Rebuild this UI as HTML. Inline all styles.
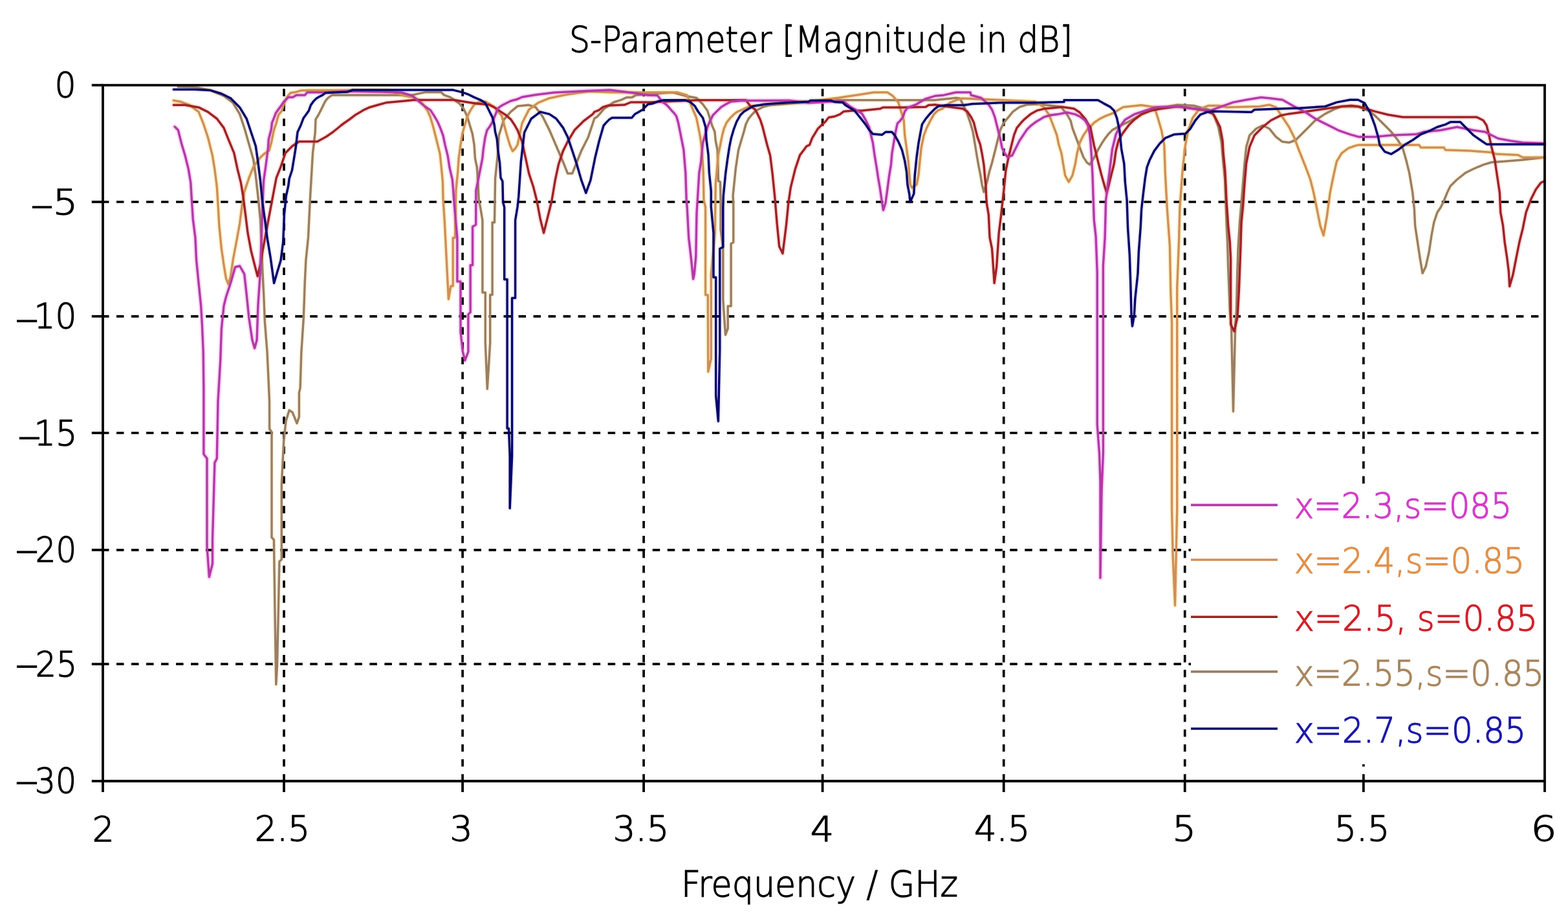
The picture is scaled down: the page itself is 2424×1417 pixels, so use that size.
<!DOCTYPE html><html><head><meta charset="utf-8"><title>S-Parameter [Magnitude in dB]</title><style>
html,body{margin:0;padding:0;background:#fff;overflow:hidden}
svg{display:block}
text{font-family:'DejaVu Sans','Liberation Sans',sans-serif;fill:#000}
</style></head><body>
<svg width="2424" height="1417" viewBox="0 0 2424 1417">
<rect x="0" y="0" width="2424" height="1417" fill="#fff"/>
<g stroke="#000" stroke-width="3.70" stroke-dasharray="11.5 11.52" fill="none"><line x1="157" y1="312.0" x2="2386" y2="312.0"/><line x1="157" y1="488.8" x2="2386" y2="488.8"/><line x1="157" y1="669.0" x2="2386" y2="669.0"/><line x1="157" y1="849.8" x2="2386" y2="849.8"/><line x1="157" y1="1026.2" x2="2386" y2="1026.2"/></g>
<g stroke="#000" stroke-width="3.70" stroke-dasharray="11.4 11.62" fill="none"><line x1="439.0" y1="137.3" x2="439.0" y2="1208"/><line x1="715.1" y1="137.3" x2="715.1" y2="1208"/><line x1="995.1" y1="137.3" x2="995.1" y2="1208"/><line x1="1271.6" y1="137.3" x2="1271.6" y2="1208"/><line x1="1551.7" y1="137.3" x2="1551.7" y2="1208"/><line x1="1831.7" y1="137.3" x2="1831.7" y2="1208"/><line x1="2107.9" y1="137.3" x2="2107.9" y2="1208"/></g>
<path d="M275.4 134.1 L301.9 134.8 L324.8 139.4 L346.0 148.2 L360.1 158.8 L370.6 176.4 L377.7 197.6 L384.8 222.3 L391.8 247.0 L395.3 271.7 L398.9 303.4 L402.4 338.7 L404.2 374.0 L405.9 419.8 L407.7 455.1 L409.4 497.4 L413.0 543.3 L414.7 578.6 L416.5 620.0 L416.6 662.7 L420.0 667.8 L420.0 830.5 L423.4 833.9 L425.1 952.5 L426.8 1057.6 L428.5 1027.0 L430.2 949.0 L431.9 867.8 L435.3 864.4 L435.3 749.0 L438.7 681.4 L442.0 650.8 L447.1 633.9 L452.2 637.3 L459.0 654.2 L462.4 644.0 L462.4 606.8 L464.1 599.7 L465.9 543.3 L469.4 490.4 L471.2 437.5 L472.9 402.2 L476.5 366.9 L478.2 331.6 L480.0 296.4 L481.7 268.1 L483.5 236.4 L487.2 205.0 L488.0 184.4 L492.2 177.8 L495.5 171.2 L498.8 164.6 L502.0 158.0 L504.6 153.9 L507.9 150.6 L513.6 146.9 L525.2 146.9 L637.0 146.9 L657.0 142.6 L682.0 142.6 L686.6 146.9 L696.4 150.4 L710.5 160.3 L716.2 167.3 L721.8 178.6 L726.1 192.7 L730.3 206.8 L733.1 223.8 L734.5 244.9 L737.4 259.0 L738.8 280.2 L740.2 308.4 L742.5 320.0 L745.9 340.3 L745.9 452.0 L750.3 452.0 L750.3 529.9 L753.3 601.0 L757.7 529.9 L757.7 455.4 L761.1 455.4 L761.1 343.7 L764.5 343.7 L765.6 276.0 L769.8 235.0 L771.2 209.7 L775.5 195.5 L778.9 185.0 L789.4 172.9 L800.0 164.1 L817.7 162.3 L828.2 165.9 L838.8 180.0 L849.4 201.1 L860.0 225.8 L870.6 250.5 L877.6 268.1 L884.7 268.1 L891.7 250.5 L898.8 232.9 L909.4 211.7 L919.0 182.8 L922.3 181.1 L926.4 177.0 L933.9 167.9 L940.5 163.8 L948.7 158.0 L960.3 154.3 L968.5 150.6 L976.8 150.6 L983.4 146.9 L1040.0 142.8 L1061.2 148.5 L1076.7 151.3 L1086.6 161.2 L1093.6 171.0 L1096.4 179.5 L1100.7 193.6 L1104.9 203.5 L1106.3 217.6 L1109.1 231.7 L1109.8 252.9 L1110.5 279.7 L1113.4 281.1 L1114.1 309.3 L1114.0 354.6 L1117.8 384.2 L1117.8 463.2 L1121.5 517.5 L1125.2 507.7 L1125.2 473.0 L1130.1 473.0 L1130.1 376.8 L1133.8 374.3 L1133.8 320.0 L1133.1 302.3 L1137.4 259.9 L1141.6 231.7 L1145.8 217.6 L1150.0 203.5 L1152.9 192.2 L1157.1 183.7 L1162.8 176.7 L1168.4 171.0 L1174.0 168.2 L1179.5 165.2 L1190.8 162.4 L1290.0 154.7 L1445.3 154.7 L1477.7 151.2 L1484.0 152.0 L1494.1 172.4 L1499.8 189.3 L1504.0 203.4 L1506.8 220.4 L1509.6 237.3 L1512.5 254.2 L1515.3 268.4 L1518.1 285.3 L1520.9 296.6 L1526.6 278.2 L1529.4 265.5 L1533.6 251.4 L1537.9 234.5 L1542.1 217.5 L1546.4 200.6 L1552.0 189.3 L1559.1 180.8 L1566.1 172.4 L1576.0 165.3 L1587.3 161.8 L1607.1 161.1 L1640.0 165.0 L1649.4 176.6 L1655.1 186.5 L1657.9 197.8 L1662.1 209.1 L1666.4 220.4 L1670.6 231.7 L1674.9 242.9 L1680.5 251.4 L1684.7 254.2 L1691.8 242.9 L1697.4 231.7 L1703.1 221.8 L1708.7 213.3 L1714.4 206.2 L1720.0 200.6 L1728.0 196.4 L1744.9 188.0 L1764.6 176.7 L1787.2 168.2 L1820.0 161.9 L1845.4 163.2 L1870.0 170.0 L1875.9 175.9 L1883.5 196.2 L1888.6 221.6 L1891.1 252.1 L1893.7 277.5 L1894.9 310.5 L1896.2 348.6 L1897.5 374.0 L1898.7 414.6 L1901.3 480.0 L1903.5 502.0 L1906.5 635.7 L1909.7 502.0 L1911.4 480.0 L1912.7 424.8 L1914.0 384.2 L1916.5 343.5 L1919.1 313.0 L1921.6 282.6 L1924.1 252.1 L1926.7 226.7 L1931.8 208.9 L1941.9 198.7 L1952.1 193.7 L1962.2 198.7 L1972.4 211.4 L1982.6 219.1 L1992.7 220.3 L2002.9 216.5 L2013.0 206.4 L2023.2 196.2 L2033.4 186.0 L2048.6 175.9 L2063.8 168.3 L2074.0 164.5 L2100.0 165.0 L2115.2 170.8 L2125.4 178.4 L2138.1 191.1 L2150.8 203.8 L2161.0 216.5 L2168.6 229.2 L2173.7 247.0 L2178.7 267.3 L2183.8 297.8 L2186.4 323.2 L2187.6 348.6 L2191.4 374.0 L2195.3 399.4 L2199.1 422.3 L2204.1 412.1 L2209.2 389.2 L2213.0 363.8 L2216.8 343.5 L2221.9 328.3 L2227.0 320.7 L2232.1 310.5 L2237.2 297.8 L2242.2 287.6 L2252.4 277.5 L2265.1 267.3 L2277.8 261.0 L2293.0 254.6 L2305.7 250.8 L2323.5 249.5 L2354.0 247.0 L2387.0 243.2" fill="none" stroke="#fff8e6" stroke-width="8.00" stroke-linejoin="round" stroke-linecap="round" style="mix-blend-mode:multiply"/>
<path d="M268.3 155.3 L278.9 157.0 L293.0 162.3 L307.1 172.9 L314.2 190.5 L321.3 211.7 L328.3 239.9 L331.8 261.1 L335.4 289.3 L337.1 317.5 L338.9 349.3 L342.4 384.6 L346.0 409.2 L349.5 430.4 L353.0 439.2 L356.5 426.9 L360.1 402.2 L365.4 374.0 L370.6 345.7 L374.2 317.5 L377.7 296.4 L384.8 275.2 L391.8 257.6 L402.4 243.5 L407.7 238.3 L416.2 232.4 L419.6 219.7 L423.0 202.7 L427.2 190.0 L430.6 177.3 L435.6 171.4 L438.2 162.9 L441.6 154.5 L444.1 149.4 L449.2 143.5 L456.0 142.6 L464.4 140.1 L476.5 139.4 L600.0 139.5 L625.0 148.0 L640.0 150.4 L648.5 156.0 L655.5 163.1 L661.2 171.6 L665.4 181.4 L669.6 195.5 L673.2 209.7 L676.7 223.8 L680.2 237.9 L682.3 259.0 L684.4 280.2 L685.1 308.4 L687.1 338.7 L690.7 409.2 L693.4 462.2 L697.0 441.9 L700.2 441.9 L700.2 367.4 L703.5 367.4 L704.9 294.3 L707.7 266.1 L709.1 244.9 L712.0 223.8 L714.8 206.8 L719.0 191.3 L723.2 178.6 L727.5 170.1 L733.1 161.7 L740.0 158.0 L750.6 157.0 L764.7 165.9 L775.5 178.6 L778.3 188.5 L781.1 199.8 L783.9 209.7 L788.1 223.8 L792.4 233.6 L796.6 229.4 L800.0 223.8 L807.1 190.5 L817.7 169.4 L831.8 158.8 L849.4 151.7 L874.1 146.5 L909.4 141.2 L943.8 142.7 L1046.9 142.7 L1061.7 146.9 L1072.5 172.5 L1076.7 182.3 L1079.5 196.4 L1082.3 210.5 L1085.2 231.7 L1087.3 267.0 L1088.0 309.3 L1090.6 320.0 L1090.6 455.8 L1094.3 455.8 L1094.8 574.3 L1099.3 554.6 L1099.3 423.7 L1105.4 359.5 L1106.3 283.9 L1110.5 238.8 L1113.4 224.7 L1116.2 210.5 L1119.0 199.3 L1123.2 189.4 L1128.9 182.3 L1134.5 176.7 L1140.2 172.5 L1147.2 169.6 L1152.9 166.8 L1160.0 164.0 L1200.0 160.0 L1250.0 157.0 L1296.7 151.1 L1323.9 146.9 L1350.7 142.7 L1371.9 142.7 L1380.3 148.3 L1388.8 158.2 L1397.3 186.5 L1398.7 209.0 L1401.5 228.8 L1404.3 250.0 L1405.7 268.3 L1407.1 285.3 L1410.0 290.0 L1417.0 285.3 L1419.9 271.1 L1424.1 228.8 L1428.3 209.0 L1432.6 197.7 L1438.2 186.5 L1443.8 176.6 L1449.5 170.9 L1456.6 168.1 L1468.3 158.8 L1480.0 154.0 L1488.0 152.0 L1600.0 157.0 L1613.0 165.0 L1621.2 176.6 L1625.4 186.5 L1629.7 197.8 L1633.9 209.1 L1636.7 223.2 L1641.0 237.3 L1643.8 254.2 L1646.6 271.2 L1652.2 281.1 L1657.9 271.2 L1662.1 254.2 L1665.0 237.3 L1669.2 220.4 L1674.9 209.1 L1680.5 200.6 L1686.1 194.9 L1691.8 189.3 L1700.2 183.6 L1708.7 179.4 L1720.0 175.2 L1736.4 165.4 L1764.6 162.6 L1784.4 165.4 L1790.0 182.3 L1795.7 202.1 L1799.9 224.6 L1801.3 267.0 L1804.2 320.6 L1808.4 379.8 L1809.8 450.4 L1811.6 500.0 L1811.6 786.0 L1813.2 860.6 L1816.5 935.4 L1819.7 786.0 L1819.7 444.7 L1822.5 374.0 L1823.9 320.6 L1828.1 264.2 L1832.4 224.6 L1836.6 202.1 L1843.7 182.3 L1852.1 171.0 L1860.0 166.4 L1868.3 163.2 L1883.5 163.2 L1896.2 165.7 L1947.0 164.5 L1962.2 161.9 L1972.4 165.7 L1982.6 181.0 L1992.7 196.2 L2000.3 211.4 L2008.0 231.8 L2018.1 257.2 L2025.7 277.5 L2030.8 297.8 L2035.9 323.2 L2041.0 348.6 L2046.1 363.8 L2051.1 335.9 L2056.2 297.8 L2061.3 272.4 L2066.4 249.5 L2074.0 236.8 L2084.2 229.2 L2094.4 225.4 L2100.0 224.1 L2194.0 224.1 L2196.5 228.0 L2232.1 228.0 L2234.6 231.8 L2272.7 233.0 L2305.7 235.6 L2313.4 238.1 L2346.4 239.4 L2354.0 243.2 L2387.0 243.2" fill="none" stroke="#fff5d2" stroke-width="8.00" stroke-linejoin="round" stroke-linecap="round" style="mix-blend-mode:multiply"/>
<path d="M268.3 162.3 L286.0 162.3 L307.1 165.9 L321.3 172.9 L335.4 183.5 L346.0 197.6 L353.0 215.2 L361.8 236.4 L367.1 261.1 L372.4 282.3 L375.9 303.4 L379.5 331.6 L383.0 359.9 L388.3 388.1 L393.6 409.2 L398.2 426.9 L402.4 409.2 L405.9 388.1 L411.2 359.9 L416.5 331.6 L421.8 303.4 L427.1 275.2 L434.1 257.6 L441.2 236.4 L451.8 225.8 L462.4 218.8 L476.5 218.8 L490.6 218.8 L504.7 211.0 L514.5 204.2 L521.0 199.0 L527.0 194.0 L533.0 189.5 L541.0 184.0 L549.0 177.8 L556.0 173.7 L563.0 169.6 L570.0 166.3 L583.0 162.5 L598.0 158.4 L625.0 156.0 L640.0 154.6 L702.0 154.6 L724.7 158.2 L738.8 160.3 L755.7 161.7 L764.2 165.9 L772.6 171.6 L781.1 177.2 L789.6 184.3 L795.2 192.7 L800.0 201.2 L807.1 218.8 L812.4 243.5 L817.7 268.1 L824.7 289.3 L830.0 310.5 L835.3 338.7 L840.6 359.9 L845.9 338.7 L852.9 310.5 L858.2 278.7 L863.5 254.0 L870.6 232.9 L877.6 218.8 L888.2 201.1 L902.3 187.0 L916.4 176.4 L919.0 172.9 L925.6 170.4 L932.2 165.4 L940.5 163.0 L965.2 162.1 L975.1 158.0 L1005.6 158.0 L1079.0 154.7 L1153.0 154.7 L1160.0 164.0 L1166.8 168.8 L1170.3 174.4 L1175.3 185.0 L1178.8 195.6 L1182.3 209.7 L1185.9 223.8 L1190.6 239.9 L1194.1 268.1 L1197.7 303.4 L1201.2 345.7 L1204.7 381.0 L1210.0 391.6 L1215.3 349.3 L1218.8 314.0 L1222.4 289.3 L1229.4 261.1 L1236.5 239.9 L1247.1 225.8 L1251.5 223.8 L1255.7 213.2 L1260.0 206.2 L1264.2 199.1 L1270.6 192.7 L1275.5 188.5 L1281.1 181.5 L1290.0 180.0 L1298.5 176.6 L1304.1 172.3 L1318.2 170.9 L1332.3 170.9 L1360.6 168.1 L1364.8 166.0 L1395.9 166.0 L1431.1 165.3 L1435.4 162.5 L1445.3 161.8 L1459.4 163.9 L1488.5 168.1 L1495.5 172.4 L1501.2 180.8 L1505.4 189.3 L1508.2 200.6 L1511.1 211.9 L1515.3 223.2 L1518.1 237.3 L1520.9 254.2 L1522.4 271.2 L1523.8 285.3 L1525.2 313.5 L1528.3 331.6 L1530.0 366.9 L1533.6 384.6 L1535.3 409.2 L1537.1 437.5 L1540.6 412.8 L1544.2 359.9 L1547.7 331.6 L1552.0 292.4 L1554.8 264.1 L1559.1 243.0 L1563.3 226.0 L1567.5 209.1 L1571.8 197.8 L1578.8 189.3 L1584.5 183.6 L1592.9 176.6 L1602.8 170.9 L1614.1 168.1 L1628.2 166.7 L1642.4 165.3 L1660.7 168.1 L1669.2 173.8 L1677.7 183.6 L1683.3 193.5 L1685.6 196.4 L1691.3 224.6 L1696.9 247.2 L1702.6 269.8 L1708.2 289.5 L1711.0 298.0 L1716.7 275.4 L1722.3 252.9 L1725.1 233.1 L1729.4 216.2 L1736.4 204.9 L1744.9 193.6 L1753.4 185.1 L1764.6 176.7 L1778.8 171.0 L1792.9 168.2 L1820.0 164.5 L1860.0 170.0 L1875.0 176.0 L1878.4 181.0 L1886.0 196.2 L1889.9 216.5 L1891.1 236.8 L1893.7 262.2 L1894.9 285.1 L1896.2 313.0 L1898.7 348.6 L1901.3 374.0 L1902.6 399.4 L1902.6 501.3 L1908.0 512.0 L1913.0 490.0 L1915.3 450.0 L1916.5 419.7 L1917.8 384.2 L1919.1 343.5 L1921.6 318.1 L1924.1 282.6 L1926.7 252.1 L1931.8 226.7 L1939.4 208.9 L1952.1 196.2 L1964.8 186.0 L1980.0 178.4 L1992.7 175.9 L2013.0 173.3 L2074.0 164.5 L2089.2 163.2 L2100.0 164.5 L2125.4 172.1 L2145.7 177.2 L2168.6 181.0 L2282.9 181.0 L2293.0 186.0 L2298.1 193.7 L2301.9 208.9 L2305.7 226.7 L2310.8 247.0 L2314.6 272.4 L2318.4 297.8 L2319.7 328.3 L2323.5 348.6 L2326.1 374.0 L2329.9 399.4 L2332.4 419.7 L2333.7 442.6 L2338.8 424.8 L2343.8 399.4 L2348.9 374.0 L2354.0 353.7 L2359.1 328.3 L2366.7 308.0 L2374.3 292.7 L2381.9 282.6 L2387.0 280.0" fill="none" stroke="#ffe6e6" stroke-width="8.00" stroke-linejoin="round" stroke-linecap="round" style="mix-blend-mode:multiply"/>
<path d="M270.1 195.8 L275.4 201.1 L280.7 222.3 L286.0 239.9 L291.3 261.1 L294.8 282.3 L296.6 312.2 L298.3 338.7 L301.9 366.9 L303.6 402.2 L307.1 437.5 L310.7 472.7 L312.4 501.0 L314.2 543.3 L314.9 600.0 L314.9 701.7 L320.0 708.5 L320.0 844.0 L323.4 891.5 L328.5 871.0 L328.5 834.0 L331.9 715.0 L335.3 708.5 L337.0 620.0 L340.7 557.4 L342.4 508.0 L346.0 472.7 L349.5 458.6 L356.5 437.5 L363.6 412.8 L370.6 411.0 L377.7 423.4 L381.2 455.0 L384.8 490.4 L390.0 525.6 L393.6 538.0 L397.1 525.6 L398.9 472.7 L402.4 419.8 L404.2 366.9 L405.9 314.0 L407.7 278.7 L411.2 254.0 L414.5 228.1 L415.3 215.4 L419.6 198.5 L420.4 190.0 L423.8 181.6 L426.3 174.8 L430.6 168.9 L434.8 163.0 L439.0 157.0 L445.8 150.2 L452.6 150.2 L458.5 146.9 L471.5 146.9 L475.0 142.7 L502.0 142.7 L537.0 141.0 L588.0 142.0 L621.0 143.0 L637.8 148.2 L648.5 157.5 L656.9 164.5 L665.4 170.1 L671.0 178.6 L676.7 188.5 L680.9 198.4 L685.1 209.7 L688.0 223.8 L692.2 240.7 L695.0 259.0 L699.3 277.4 L700.7 294.3 L702.1 314.0 L706.9 367.4 L706.9 435.1 L712.0 435.1 L712.0 513.0 L715.4 543.4 L718.8 557.0 L723.9 543.4 L723.9 485.9 L727.2 482.5 L727.2 409.7 L730.6 409.7 L730.6 350.5 L735.7 347.0 L735.9 294.3 L741.6 266.1 L745.8 244.9 L747.2 230.8 L750.0 212.5 L752.9 201.2 L757.1 195.5 L761.3 188.5 L769.8 167.3 L775.5 163.1 L781.1 160.3 L789.6 156.0 L800.0 153.2 L807.1 150.0 L828.2 146.5 L856.5 142.9 L891.7 141.2 L943.0 139.0 L982.0 144.0 L1001.5 146.9 L1016.4 147.5 L1024.6 158.0 L1029.6 161.3 L1034.5 166.3 L1038.6 171.2 L1041.9 174.5 L1045.6 179.5 L1048.5 189.4 L1051.3 203.5 L1054.1 217.6 L1056.9 231.7 L1059.8 267.0 L1061.2 309.3 L1062.2 320.0 L1064.7 367.0 L1068.4 399.0 L1071.6 431.1 L1073.3 423.7 L1075.8 396.5 L1077.0 330.0 L1080.9 267.0 L1083.7 250.0 L1086.6 220.4 L1093.6 196.4 L1097.8 186.6 L1102.1 178.1 L1107.7 172.5 L1114.8 165.4 L1121.8 161.2 L1130.3 156.9 L1145.8 155.5 L1220.0 155.3 L1250.0 158.9 L1284.0 157.0 L1304.1 156.8 L1315.4 165.3 L1322.5 169.5 L1332.3 175.2 L1338.0 185.0 L1343.6 196.3 L1346.5 209.0 L1349.3 220.3 L1352.1 240.1 L1354.9 257.0 L1357.7 275.4 L1360.6 292.3 L1363.4 312.1 L1365.5 324.8 L1369.0 313.5 L1371.9 292.3 L1374.7 271.1 L1377.5 254.2 L1378.9 237.3 L1381.7 220.3 L1384.6 203.4 L1387.4 190.7 L1391.6 186.5 L1395.9 180.8 L1398.7 172.3 L1402.9 166.7 L1410.0 163.9 L1417.0 161.1 L1431.1 152.6 L1445.3 148.3 L1459.4 146.9 L1477.7 142.7 L1500.0 142.7 L1501.2 147.0 L1516.7 151.2 L1528.0 161.1 L1533.6 169.5 L1537.9 180.8 L1540.7 192.1 L1543.5 203.4 L1546.4 214.7 L1549.2 228.8 L1553.4 237.3 L1557.7 242.9 L1564.7 240.1 L1570.4 228.8 L1576.0 217.5 L1581.7 209.1 L1587.3 200.6 L1592.9 194.9 L1600.0 189.3 L1607.1 185.1 L1614.1 180.8 L1624.0 178.0 L1635.3 176.6 L1649.4 173.8 L1662.1 176.6 L1670.6 180.8 L1677.7 186.5 L1681.9 193.5 L1684.7 207.7 L1686.1 221.8 L1687.5 242.9 L1689.0 271.2 L1690.4 313.5 L1691.3 340.0 L1694.1 365.7 L1696.2 420.0 L1696.2 656.0 L1699.5 700.0 L1701.0 743.7 L1701.0 893.0 L1703.0 760.0 L1705.4 700.0 L1705.4 410.9 L1708.2 365.7 L1709.6 309.3 L1711.0 298.0 L1716.7 252.9 L1719.5 230.3 L1725.1 207.7 L1730.8 196.4 L1739.3 185.1 L1753.4 176.7 L1770.3 171.0 L1787.2 165.4 L1820.0 164.5 L1840.3 167.0 L1870.8 170.8 L1906.4 158.1 L1926.7 154.3 L1949.5 150.5 L1962.2 151.8 L1982.6 154.3 L2002.9 165.7 L2018.1 173.3 L2033.4 183.5 L2048.6 191.1 L2068.9 201.3 L2086.7 207.6 L2100.0 211.4 L2125.4 211.4 L2150.8 208.9 L2188.9 207.6 L2201.6 203.8 L2227.0 201.3 L2252.4 196.2 L2265.1 198.7 L2277.8 201.3 L2295.6 203.8 L2315.9 214.0 L2336.2 217.8 L2354.0 220.3 L2387.0 221.6" fill="none" stroke="#fcdcfa" stroke-width="8.00" stroke-linejoin="round" stroke-linecap="round" style="mix-blend-mode:multiply"/>
<path d="M268.3 138.3 L300.1 138.3 L324.8 139.4 L342.4 144.7 L356.5 151.7 L370.6 165.9 L381.2 183.5 L388.3 204.7 L395.3 225.8 L398.9 250.5 L402.4 278.7 L405.9 314.0 L409.4 338.7 L413.0 366.9 L418.3 398.7 L423.6 437.5 L428.8 419.8 L434.1 402.2 L437.7 374.0 L439.4 331.6 L442.3 302.8 L445.8 287.0 L447.2 276.0 L451.5 263.0 L454.3 246.0 L457.0 229.4 L460.0 204.2 L465.0 193.5 L469.0 182.8 L473.2 177.0 L477.3 171.2 L480.6 162.1 L484.8 156.4 L488.9 152.2 L493.0 149.8 L498.8 146.9 L503.0 143.5 L537.0 142.0 L545.0 139.0 L700.7 139.1 L714.8 142.6 L724.7 146.2 L733.1 150.4 L743.0 154.6 L750.0 158.9 L752.9 164.5 L757.1 173.0 L761.3 181.4 L764.2 192.7 L765.6 204.0 L768.4 215.3 L769.8 232.2 L772.6 252.0 L774.0 274.6 L776.9 280.2 L777.6 312.7 L779.7 320.0 L779.7 431.7 L784.1 431.7 L784.1 661.9 L786.5 661.9 L788.2 704.2 L788.2 785.5 L791.6 704.2 L791.6 460.5 L796.6 460.5 L796.6 340.3 L800.0 320.0 L801.8 303.4 L805.3 250.5 L810.6 204.7 L821.2 183.5 L835.3 172.9 L849.4 176.4 L860.0 183.5 L870.6 197.6 L877.6 211.7 L884.7 232.9 L891.7 254.0 L898.8 278.7 L905.8 298.1 L912.9 278.7 L920.0 243.5 L926.0 218.8 L933.1 194.0 L937.2 189.4 L942.1 184.4 L946.2 181.9 L976.8 181.9 L981.7 176.2 L987.5 172.9 L993.3 169.6 L998.2 164.6 L1001.5 161.3 L1009.8 159.7 L1018.0 156.4 L1026.3 154.7 L1059.3 154.7 L1067.5 158.0 L1074.1 163.8 L1079.0 172.0 L1083.2 177.8 L1086.6 182.3 L1090.8 196.4 L1092.2 217.6 L1095.0 238.8 L1096.4 267.0 L1099.3 295.2 L1099.3 320.0 L1103.0 359.5 L1103.0 428.6 L1106.7 428.6 L1106.7 611.4 L1110.4 650.9 L1112.8 539.8 L1112.8 384.2 L1117.8 381.7 L1117.8 320.0 L1118.3 302.3 L1121.8 267.0 L1124.7 245.8 L1127.5 227.5 L1130.3 213.4 L1134.5 199.3 L1138.8 188.0 L1144.4 178.1 L1150.0 172.5 L1157.1 168.2 L1164.2 164.0 L1174.0 162.6 L1181.1 161.2 L1200.0 159.8 L1220.0 158.5 L1250.0 157.0 L1253.0 155.3 L1284.7 155.3 L1290.0 157.5 L1302.7 158.2 L1306.9 162.5 L1314.0 166.7 L1321.0 170.9 L1326.7 178.0 L1332.3 185.0 L1338.0 192.1 L1343.6 200.6 L1349.3 206.9 L1363.4 208.3 L1369.0 204.1 L1378.9 204.1 L1383.2 209.0 L1388.8 218.9 L1394.4 231.6 L1398.7 248.6 L1401.5 265.5 L1402.9 285.3 L1405.7 299.4 L1407.1 312.1 L1412.8 299.4 L1414.2 271.1 L1417.0 242.9 L1419.9 221.7 L1422.7 206.2 L1425.5 192.1 L1431.1 183.6 L1438.2 175.2 L1445.3 168.1 L1450.9 163.9 L1463.6 162.5 L1490.0 162.5 L1503.6 160.6 L1545.9 158.8 L1595.3 158.8 L1645.0 157.5 L1645.0 154.7 L1697.4 154.7 L1705.9 159.6 L1716.7 165.4 L1722.3 171.0 L1726.6 182.3 L1730.8 202.1 L1733.6 230.3 L1737.8 252.9 L1739.3 281.1 L1742.1 309.3 L1743.5 351.6 L1746.3 394.0 L1747.7 436.3 L1749.1 487.1 L1750.5 504.0 L1753.4 487.1 L1754.8 461.7 L1759.0 422.2 L1760.4 388.3 L1763.2 351.6 L1764.6 323.4 L1767.5 298.0 L1770.3 275.4 L1773.1 258.5 L1777.3 247.2 L1784.4 233.1 L1792.9 221.8 L1801.3 213.4 L1815.4 207.7 L1832.7 206.4 L1840.3 198.7 L1848.0 186.0 L1855.6 177.2 L1865.7 173.3 L1875.9 172.1 L1934.3 173.3 L1939.4 169.5 L1972.4 168.3 L2010.5 167.0 L2048.6 164.5 L2066.4 158.1 L2086.7 154.3 L2099.4 154.3 L2109.6 159.4 L2117.8 173.3 L2125.4 193.7 L2130.5 211.4 L2133.0 224.1 L2140.6 234.3 L2150.8 238.1 L2161.0 231.8 L2171.1 224.1 L2183.8 216.5 L2196.5 207.6 L2211.8 201.3 L2221.9 196.2 L2234.6 192.4 L2242.2 188.6 L2257.5 188.6 L2265.1 196.2 L2277.8 208.9 L2290.5 217.8 L2298.1 222.9 L2387.0 222.9" fill="none" stroke="#efefff" stroke-width="8.00" stroke-linejoin="round" stroke-linecap="round" style="mix-blend-mode:multiply"/>
<path d="M275.4 134.1 L301.9 134.8 L324.8 139.4 L346.0 148.2 L360.1 158.8 L370.6 176.4 L377.7 197.6 L384.8 222.3 L391.8 247.0 L395.3 271.7 L398.9 303.4 L402.4 338.7 L404.2 374.0 L405.9 419.8 L407.7 455.1 L409.4 497.4 L413.0 543.3 L414.7 578.6 L416.5 620.0 L416.6 662.7 L420.0 667.8 L420.0 830.5 L423.4 833.9 L425.1 952.5 L426.8 1057.6 L428.5 1027.0 L430.2 949.0 L431.9 867.8 L435.3 864.4 L435.3 749.0 L438.7 681.4 L442.0 650.8 L447.1 633.9 L452.2 637.3 L459.0 654.2 L462.4 644.0 L462.4 606.8 L464.1 599.7 L465.9 543.3 L469.4 490.4 L471.2 437.5 L472.9 402.2 L476.5 366.9 L478.2 331.6 L480.0 296.4 L481.7 268.1 L483.5 236.4 L487.2 205.0 L488.0 184.4 L492.2 177.8 L495.5 171.2 L498.8 164.6 L502.0 158.0 L504.6 153.9 L507.9 150.6 L513.6 146.9 L525.2 146.9 L637.0 146.9 L657.0 142.6 L682.0 142.6 L686.6 146.9 L696.4 150.4 L710.5 160.3 L716.2 167.3 L721.8 178.6 L726.1 192.7 L730.3 206.8 L733.1 223.8 L734.5 244.9 L737.4 259.0 L738.8 280.2 L740.2 308.4 L742.5 320.0 L745.9 340.3 L745.9 452.0 L750.3 452.0 L750.3 529.9 L753.3 601.0 L757.7 529.9 L757.7 455.4 L761.1 455.4 L761.1 343.7 L764.5 343.7 L765.6 276.0 L769.8 235.0 L771.2 209.7 L775.5 195.5 L778.9 185.0 L789.4 172.9 L800.0 164.1 L817.7 162.3 L828.2 165.9 L838.8 180.0 L849.4 201.1 L860.0 225.8 L870.6 250.5 L877.6 268.1 L884.7 268.1 L891.7 250.5 L898.8 232.9 L909.4 211.7 L919.0 182.8 L922.3 181.1 L926.4 177.0 L933.9 167.9 L940.5 163.8 L948.7 158.0 L960.3 154.3 L968.5 150.6 L976.8 150.6 L983.4 146.9 L1040.0 142.8 L1061.2 148.5 L1076.7 151.3 L1086.6 161.2 L1093.6 171.0 L1096.4 179.5 L1100.7 193.6 L1104.9 203.5 L1106.3 217.6 L1109.1 231.7 L1109.8 252.9 L1110.5 279.7 L1113.4 281.1 L1114.1 309.3 L1114.0 354.6 L1117.8 384.2 L1117.8 463.2 L1121.5 517.5 L1125.2 507.7 L1125.2 473.0 L1130.1 473.0 L1130.1 376.8 L1133.8 374.3 L1133.8 320.0 L1133.1 302.3 L1137.4 259.9 L1141.6 231.7 L1145.8 217.6 L1150.0 203.5 L1152.9 192.2 L1157.1 183.7 L1162.8 176.7 L1168.4 171.0 L1174.0 168.2 L1179.5 165.2 L1190.8 162.4 L1290.0 154.7 L1445.3 154.7 L1477.7 151.2 L1484.0 152.0 L1494.1 172.4 L1499.8 189.3 L1504.0 203.4 L1506.8 220.4 L1509.6 237.3 L1512.5 254.2 L1515.3 268.4 L1518.1 285.3 L1520.9 296.6 L1526.6 278.2 L1529.4 265.5 L1533.6 251.4 L1537.9 234.5 L1542.1 217.5 L1546.4 200.6 L1552.0 189.3 L1559.1 180.8 L1566.1 172.4 L1576.0 165.3 L1587.3 161.8 L1607.1 161.1 L1640.0 165.0 L1649.4 176.6 L1655.1 186.5 L1657.9 197.8 L1662.1 209.1 L1666.4 220.4 L1670.6 231.7 L1674.9 242.9 L1680.5 251.4 L1684.7 254.2 L1691.8 242.9 L1697.4 231.7 L1703.1 221.8 L1708.7 213.3 L1714.4 206.2 L1720.0 200.6 L1728.0 196.4 L1744.9 188.0 L1764.6 176.7 L1787.2 168.2 L1820.0 161.9 L1845.4 163.2 L1870.0 170.0 L1875.9 175.9 L1883.5 196.2 L1888.6 221.6 L1891.1 252.1 L1893.7 277.5 L1894.9 310.5 L1896.2 348.6 L1897.5 374.0 L1898.7 414.6 L1901.3 480.0 L1903.5 502.0 L1906.5 635.7 L1909.7 502.0 L1911.4 480.0 L1912.7 424.8 L1914.0 384.2 L1916.5 343.5 L1919.1 313.0 L1921.6 282.6 L1924.1 252.1 L1926.7 226.7 L1931.8 208.9 L1941.9 198.7 L1952.1 193.7 L1962.2 198.7 L1972.4 211.4 L1982.6 219.1 L1992.7 220.3 L2002.9 216.5 L2013.0 206.4 L2023.2 196.2 L2033.4 186.0 L2048.6 175.9 L2063.8 168.3 L2074.0 164.5 L2100.0 165.0 L2115.2 170.8 L2125.4 178.4 L2138.1 191.1 L2150.8 203.8 L2161.0 216.5 L2168.6 229.2 L2173.7 247.0 L2178.7 267.3 L2183.8 297.8 L2186.4 323.2 L2187.6 348.6 L2191.4 374.0 L2195.3 399.4 L2199.1 422.3 L2204.1 412.1 L2209.2 389.2 L2213.0 363.8 L2216.8 343.5 L2221.9 328.3 L2227.0 320.7 L2232.1 310.5 L2237.2 297.8 L2242.2 287.6 L2252.4 277.5 L2265.1 267.3 L2277.8 261.0 L2293.0 254.6 L2305.7 250.8 L2323.5 249.5 L2354.0 247.0 L2387.0 243.2" fill="none" stroke="#9a7e64" stroke-width="3.50" stroke-linejoin="round" stroke-linecap="round"/>
<path d="M268.3 155.3 L278.9 157.0 L293.0 162.3 L307.1 172.9 L314.2 190.5 L321.3 211.7 L328.3 239.9 L331.8 261.1 L335.4 289.3 L337.1 317.5 L338.9 349.3 L342.4 384.6 L346.0 409.2 L349.5 430.4 L353.0 439.2 L356.5 426.9 L360.1 402.2 L365.4 374.0 L370.6 345.7 L374.2 317.5 L377.7 296.4 L384.8 275.2 L391.8 257.6 L402.4 243.5 L407.7 238.3 L416.2 232.4 L419.6 219.7 L423.0 202.7 L427.2 190.0 L430.6 177.3 L435.6 171.4 L438.2 162.9 L441.6 154.5 L444.1 149.4 L449.2 143.5 L456.0 142.6 L464.4 140.1 L476.5 139.4 L600.0 139.5 L625.0 148.0 L640.0 150.4 L648.5 156.0 L655.5 163.1 L661.2 171.6 L665.4 181.4 L669.6 195.5 L673.2 209.7 L676.7 223.8 L680.2 237.9 L682.3 259.0 L684.4 280.2 L685.1 308.4 L687.1 338.7 L690.7 409.2 L693.4 462.2 L697.0 441.9 L700.2 441.9 L700.2 367.4 L703.5 367.4 L704.9 294.3 L707.7 266.1 L709.1 244.9 L712.0 223.8 L714.8 206.8 L719.0 191.3 L723.2 178.6 L727.5 170.1 L733.1 161.7 L740.0 158.0 L750.6 157.0 L764.7 165.9 L775.5 178.6 L778.3 188.5 L781.1 199.8 L783.9 209.7 L788.1 223.8 L792.4 233.6 L796.6 229.4 L800.0 223.8 L807.1 190.5 L817.7 169.4 L831.8 158.8 L849.4 151.7 L874.1 146.5 L909.4 141.2 L943.8 142.7 L1046.9 142.7 L1061.7 146.9 L1072.5 172.5 L1076.7 182.3 L1079.5 196.4 L1082.3 210.5 L1085.2 231.7 L1087.3 267.0 L1088.0 309.3 L1090.6 320.0 L1090.6 455.8 L1094.3 455.8 L1094.8 574.3 L1099.3 554.6 L1099.3 423.7 L1105.4 359.5 L1106.3 283.9 L1110.5 238.8 L1113.4 224.7 L1116.2 210.5 L1119.0 199.3 L1123.2 189.4 L1128.9 182.3 L1134.5 176.7 L1140.2 172.5 L1147.2 169.6 L1152.9 166.8 L1160.0 164.0 L1200.0 160.0 L1250.0 157.0 L1296.7 151.1 L1323.9 146.9 L1350.7 142.7 L1371.9 142.7 L1380.3 148.3 L1388.8 158.2 L1397.3 186.5 L1398.7 209.0 L1401.5 228.8 L1404.3 250.0 L1405.7 268.3 L1407.1 285.3 L1410.0 290.0 L1417.0 285.3 L1419.9 271.1 L1424.1 228.8 L1428.3 209.0 L1432.6 197.7 L1438.2 186.5 L1443.8 176.6 L1449.5 170.9 L1456.6 168.1 L1468.3 158.8 L1480.0 154.0 L1488.0 152.0 L1600.0 157.0 L1613.0 165.0 L1621.2 176.6 L1625.4 186.5 L1629.7 197.8 L1633.9 209.1 L1636.7 223.2 L1641.0 237.3 L1643.8 254.2 L1646.6 271.2 L1652.2 281.1 L1657.9 271.2 L1662.1 254.2 L1665.0 237.3 L1669.2 220.4 L1674.9 209.1 L1680.5 200.6 L1686.1 194.9 L1691.8 189.3 L1700.2 183.6 L1708.7 179.4 L1720.0 175.2 L1736.4 165.4 L1764.6 162.6 L1784.4 165.4 L1790.0 182.3 L1795.7 202.1 L1799.9 224.6 L1801.3 267.0 L1804.2 320.6 L1808.4 379.8 L1809.8 450.4 L1811.6 500.0 L1811.6 786.0 L1813.2 860.6 L1816.5 935.4 L1819.7 786.0 L1819.7 444.7 L1822.5 374.0 L1823.9 320.6 L1828.1 264.2 L1832.4 224.6 L1836.6 202.1 L1843.7 182.3 L1852.1 171.0 L1860.0 166.4 L1868.3 163.2 L1883.5 163.2 L1896.2 165.7 L1947.0 164.5 L1962.2 161.9 L1972.4 165.7 L1982.6 181.0 L1992.7 196.2 L2000.3 211.4 L2008.0 231.8 L2018.1 257.2 L2025.7 277.5 L2030.8 297.8 L2035.9 323.2 L2041.0 348.6 L2046.1 363.8 L2051.1 335.9 L2056.2 297.8 L2061.3 272.4 L2066.4 249.5 L2074.0 236.8 L2084.2 229.2 L2094.4 225.4 L2100.0 224.1 L2194.0 224.1 L2196.5 228.0 L2232.1 228.0 L2234.6 231.8 L2272.7 233.0 L2305.7 235.6 L2313.4 238.1 L2346.4 239.4 L2354.0 243.2 L2387.0 243.2" fill="none" stroke="#cf8f5a" stroke-width="3.50" stroke-linejoin="round" stroke-linecap="round"/>
<path d="M268.3 162.3 L286.0 162.3 L307.1 165.9 L321.3 172.9 L335.4 183.5 L346.0 197.6 L353.0 215.2 L361.8 236.4 L367.1 261.1 L372.4 282.3 L375.9 303.4 L379.5 331.6 L383.0 359.9 L388.3 388.1 L393.6 409.2 L398.2 426.9 L402.4 409.2 L405.9 388.1 L411.2 359.9 L416.5 331.6 L421.8 303.4 L427.1 275.2 L434.1 257.6 L441.2 236.4 L451.8 225.8 L462.4 218.8 L476.5 218.8 L490.6 218.8 L504.7 211.0 L514.5 204.2 L521.0 199.0 L527.0 194.0 L533.0 189.5 L541.0 184.0 L549.0 177.8 L556.0 173.7 L563.0 169.6 L570.0 166.3 L583.0 162.5 L598.0 158.4 L625.0 156.0 L640.0 154.6 L702.0 154.6 L724.7 158.2 L738.8 160.3 L755.7 161.7 L764.2 165.9 L772.6 171.6 L781.1 177.2 L789.6 184.3 L795.2 192.7 L800.0 201.2 L807.1 218.8 L812.4 243.5 L817.7 268.1 L824.7 289.3 L830.0 310.5 L835.3 338.7 L840.6 359.9 L845.9 338.7 L852.9 310.5 L858.2 278.7 L863.5 254.0 L870.6 232.9 L877.6 218.8 L888.2 201.1 L902.3 187.0 L916.4 176.4 L919.0 172.9 L925.6 170.4 L932.2 165.4 L940.5 163.0 L965.2 162.1 L975.1 158.0 L1005.6 158.0 L1079.0 154.7 L1153.0 154.7 L1160.0 164.0 L1166.8 168.8 L1170.3 174.4 L1175.3 185.0 L1178.8 195.6 L1182.3 209.7 L1185.9 223.8 L1190.6 239.9 L1194.1 268.1 L1197.7 303.4 L1201.2 345.7 L1204.7 381.0 L1210.0 391.6 L1215.3 349.3 L1218.8 314.0 L1222.4 289.3 L1229.4 261.1 L1236.5 239.9 L1247.1 225.8 L1251.5 223.8 L1255.7 213.2 L1260.0 206.2 L1264.2 199.1 L1270.6 192.7 L1275.5 188.5 L1281.1 181.5 L1290.0 180.0 L1298.5 176.6 L1304.1 172.3 L1318.2 170.9 L1332.3 170.9 L1360.6 168.1 L1364.8 166.0 L1395.9 166.0 L1431.1 165.3 L1435.4 162.5 L1445.3 161.8 L1459.4 163.9 L1488.5 168.1 L1495.5 172.4 L1501.2 180.8 L1505.4 189.3 L1508.2 200.6 L1511.1 211.9 L1515.3 223.2 L1518.1 237.3 L1520.9 254.2 L1522.4 271.2 L1523.8 285.3 L1525.2 313.5 L1528.3 331.6 L1530.0 366.9 L1533.6 384.6 L1535.3 409.2 L1537.1 437.5 L1540.6 412.8 L1544.2 359.9 L1547.7 331.6 L1552.0 292.4 L1554.8 264.1 L1559.1 243.0 L1563.3 226.0 L1567.5 209.1 L1571.8 197.8 L1578.8 189.3 L1584.5 183.6 L1592.9 176.6 L1602.8 170.9 L1614.1 168.1 L1628.2 166.7 L1642.4 165.3 L1660.7 168.1 L1669.2 173.8 L1677.7 183.6 L1683.3 193.5 L1685.6 196.4 L1691.3 224.6 L1696.9 247.2 L1702.6 269.8 L1708.2 289.5 L1711.0 298.0 L1716.7 275.4 L1722.3 252.9 L1725.1 233.1 L1729.4 216.2 L1736.4 204.9 L1744.9 193.6 L1753.4 185.1 L1764.6 176.7 L1778.8 171.0 L1792.9 168.2 L1820.0 164.5 L1860.0 170.0 L1875.0 176.0 L1878.4 181.0 L1886.0 196.2 L1889.9 216.5 L1891.1 236.8 L1893.7 262.2 L1894.9 285.1 L1896.2 313.0 L1898.7 348.6 L1901.3 374.0 L1902.6 399.4 L1902.6 501.3 L1908.0 512.0 L1913.0 490.0 L1915.3 450.0 L1916.5 419.7 L1917.8 384.2 L1919.1 343.5 L1921.6 318.1 L1924.1 282.6 L1926.7 252.1 L1931.8 226.7 L1939.4 208.9 L1952.1 196.2 L1964.8 186.0 L1980.0 178.4 L1992.7 175.9 L2013.0 173.3 L2074.0 164.5 L2089.2 163.2 L2100.0 164.5 L2125.4 172.1 L2145.7 177.2 L2168.6 181.0 L2282.9 181.0 L2293.0 186.0 L2298.1 193.7 L2301.9 208.9 L2305.7 226.7 L2310.8 247.0 L2314.6 272.4 L2318.4 297.8 L2319.7 328.3 L2323.5 348.6 L2326.1 374.0 L2329.9 399.4 L2332.4 419.7 L2333.7 442.6 L2338.8 424.8 L2343.8 399.4 L2348.9 374.0 L2354.0 353.7 L2359.1 328.3 L2366.7 308.0 L2374.3 292.7 L2381.9 282.6 L2387.0 280.0" fill="none" stroke="#a02226" stroke-width="3.50" stroke-linejoin="round" stroke-linecap="round"/>
<path d="M270.1 195.8 L275.4 201.1 L280.7 222.3 L286.0 239.9 L291.3 261.1 L294.8 282.3 L296.6 312.2 L298.3 338.7 L301.9 366.9 L303.6 402.2 L307.1 437.5 L310.7 472.7 L312.4 501.0 L314.2 543.3 L314.9 600.0 L314.9 701.7 L320.0 708.5 L320.0 844.0 L323.4 891.5 L328.5 871.0 L328.5 834.0 L331.9 715.0 L335.3 708.5 L337.0 620.0 L340.7 557.4 L342.4 508.0 L346.0 472.7 L349.5 458.6 L356.5 437.5 L363.6 412.8 L370.6 411.0 L377.7 423.4 L381.2 455.0 L384.8 490.4 L390.0 525.6 L393.6 538.0 L397.1 525.6 L398.9 472.7 L402.4 419.8 L404.2 366.9 L405.9 314.0 L407.7 278.7 L411.2 254.0 L414.5 228.1 L415.3 215.4 L419.6 198.5 L420.4 190.0 L423.8 181.6 L426.3 174.8 L430.6 168.9 L434.8 163.0 L439.0 157.0 L445.8 150.2 L452.6 150.2 L458.5 146.9 L471.5 146.9 L475.0 142.7 L502.0 142.7 L537.0 141.0 L588.0 142.0 L621.0 143.0 L637.8 148.2 L648.5 157.5 L656.9 164.5 L665.4 170.1 L671.0 178.6 L676.7 188.5 L680.9 198.4 L685.1 209.7 L688.0 223.8 L692.2 240.7 L695.0 259.0 L699.3 277.4 L700.7 294.3 L702.1 314.0 L706.9 367.4 L706.9 435.1 L712.0 435.1 L712.0 513.0 L715.4 543.4 L718.8 557.0 L723.9 543.4 L723.9 485.9 L727.2 482.5 L727.2 409.7 L730.6 409.7 L730.6 350.5 L735.7 347.0 L735.9 294.3 L741.6 266.1 L745.8 244.9 L747.2 230.8 L750.0 212.5 L752.9 201.2 L757.1 195.5 L761.3 188.5 L769.8 167.3 L775.5 163.1 L781.1 160.3 L789.6 156.0 L800.0 153.2 L807.1 150.0 L828.2 146.5 L856.5 142.9 L891.7 141.2 L943.0 139.0 L982.0 144.0 L1001.5 146.9 L1016.4 147.5 L1024.6 158.0 L1029.6 161.3 L1034.5 166.3 L1038.6 171.2 L1041.9 174.5 L1045.6 179.5 L1048.5 189.4 L1051.3 203.5 L1054.1 217.6 L1056.9 231.7 L1059.8 267.0 L1061.2 309.3 L1062.2 320.0 L1064.7 367.0 L1068.4 399.0 L1071.6 431.1 L1073.3 423.7 L1075.8 396.5 L1077.0 330.0 L1080.9 267.0 L1083.7 250.0 L1086.6 220.4 L1093.6 196.4 L1097.8 186.6 L1102.1 178.1 L1107.7 172.5 L1114.8 165.4 L1121.8 161.2 L1130.3 156.9 L1145.8 155.5 L1220.0 155.3 L1250.0 158.9 L1284.0 157.0 L1304.1 156.8 L1315.4 165.3 L1322.5 169.5 L1332.3 175.2 L1338.0 185.0 L1343.6 196.3 L1346.5 209.0 L1349.3 220.3 L1352.1 240.1 L1354.9 257.0 L1357.7 275.4 L1360.6 292.3 L1363.4 312.1 L1365.5 324.8 L1369.0 313.5 L1371.9 292.3 L1374.7 271.1 L1377.5 254.2 L1378.9 237.3 L1381.7 220.3 L1384.6 203.4 L1387.4 190.7 L1391.6 186.5 L1395.9 180.8 L1398.7 172.3 L1402.9 166.7 L1410.0 163.9 L1417.0 161.1 L1431.1 152.6 L1445.3 148.3 L1459.4 146.9 L1477.7 142.7 L1500.0 142.7 L1501.2 147.0 L1516.7 151.2 L1528.0 161.1 L1533.6 169.5 L1537.9 180.8 L1540.7 192.1 L1543.5 203.4 L1546.4 214.7 L1549.2 228.8 L1553.4 237.3 L1557.7 242.9 L1564.7 240.1 L1570.4 228.8 L1576.0 217.5 L1581.7 209.1 L1587.3 200.6 L1592.9 194.9 L1600.0 189.3 L1607.1 185.1 L1614.1 180.8 L1624.0 178.0 L1635.3 176.6 L1649.4 173.8 L1662.1 176.6 L1670.6 180.8 L1677.7 186.5 L1681.9 193.5 L1684.7 207.7 L1686.1 221.8 L1687.5 242.9 L1689.0 271.2 L1690.4 313.5 L1691.3 340.0 L1694.1 365.7 L1696.2 420.0 L1696.2 656.0 L1699.5 700.0 L1701.0 743.7 L1701.0 893.0 L1703.0 760.0 L1705.4 700.0 L1705.4 410.9 L1708.2 365.7 L1709.6 309.3 L1711.0 298.0 L1716.7 252.9 L1719.5 230.3 L1725.1 207.7 L1730.8 196.4 L1739.3 185.1 L1753.4 176.7 L1770.3 171.0 L1787.2 165.4 L1820.0 164.5 L1840.3 167.0 L1870.8 170.8 L1906.4 158.1 L1926.7 154.3 L1949.5 150.5 L1962.2 151.8 L1982.6 154.3 L2002.9 165.7 L2018.1 173.3 L2033.4 183.5 L2048.6 191.1 L2068.9 201.3 L2086.7 207.6 L2100.0 211.4 L2125.4 211.4 L2150.8 208.9 L2188.9 207.6 L2201.6 203.8 L2227.0 201.3 L2252.4 196.2 L2265.1 198.7 L2277.8 201.3 L2295.6 203.8 L2315.9 214.0 L2336.2 217.8 L2354.0 220.3 L2387.0 221.6" fill="none" stroke="#b43aa6" stroke-width="3.50" stroke-linejoin="round" stroke-linecap="round"/>
<path d="M268.3 138.3 L300.1 138.3 L324.8 139.4 L342.4 144.7 L356.5 151.7 L370.6 165.9 L381.2 183.5 L388.3 204.7 L395.3 225.8 L398.9 250.5 L402.4 278.7 L405.9 314.0 L409.4 338.7 L413.0 366.9 L418.3 398.7 L423.6 437.5 L428.8 419.8 L434.1 402.2 L437.7 374.0 L439.4 331.6 L442.3 302.8 L445.8 287.0 L447.2 276.0 L451.5 263.0 L454.3 246.0 L457.0 229.4 L460.0 204.2 L465.0 193.5 L469.0 182.8 L473.2 177.0 L477.3 171.2 L480.6 162.1 L484.8 156.4 L488.9 152.2 L493.0 149.8 L498.8 146.9 L503.0 143.5 L537.0 142.0 L545.0 139.0 L700.7 139.1 L714.8 142.6 L724.7 146.2 L733.1 150.4 L743.0 154.6 L750.0 158.9 L752.9 164.5 L757.1 173.0 L761.3 181.4 L764.2 192.7 L765.6 204.0 L768.4 215.3 L769.8 232.2 L772.6 252.0 L774.0 274.6 L776.9 280.2 L777.6 312.7 L779.7 320.0 L779.7 431.7 L784.1 431.7 L784.1 661.9 L786.5 661.9 L788.2 704.2 L788.2 785.5 L791.6 704.2 L791.6 460.5 L796.6 460.5 L796.6 340.3 L800.0 320.0 L801.8 303.4 L805.3 250.5 L810.6 204.7 L821.2 183.5 L835.3 172.9 L849.4 176.4 L860.0 183.5 L870.6 197.6 L877.6 211.7 L884.7 232.9 L891.7 254.0 L898.8 278.7 L905.8 298.1 L912.9 278.7 L920.0 243.5 L926.0 218.8 L933.1 194.0 L937.2 189.4 L942.1 184.4 L946.2 181.9 L976.8 181.9 L981.7 176.2 L987.5 172.9 L993.3 169.6 L998.2 164.6 L1001.5 161.3 L1009.8 159.7 L1018.0 156.4 L1026.3 154.7 L1059.3 154.7 L1067.5 158.0 L1074.1 163.8 L1079.0 172.0 L1083.2 177.8 L1086.6 182.3 L1090.8 196.4 L1092.2 217.6 L1095.0 238.8 L1096.4 267.0 L1099.3 295.2 L1099.3 320.0 L1103.0 359.5 L1103.0 428.6 L1106.7 428.6 L1106.7 611.4 L1110.4 650.9 L1112.8 539.8 L1112.8 384.2 L1117.8 381.7 L1117.8 320.0 L1118.3 302.3 L1121.8 267.0 L1124.7 245.8 L1127.5 227.5 L1130.3 213.4 L1134.5 199.3 L1138.8 188.0 L1144.4 178.1 L1150.0 172.5 L1157.1 168.2 L1164.2 164.0 L1174.0 162.6 L1181.1 161.2 L1200.0 159.8 L1220.0 158.5 L1250.0 157.0 L1253.0 155.3 L1284.7 155.3 L1290.0 157.5 L1302.7 158.2 L1306.9 162.5 L1314.0 166.7 L1321.0 170.9 L1326.7 178.0 L1332.3 185.0 L1338.0 192.1 L1343.6 200.6 L1349.3 206.9 L1363.4 208.3 L1369.0 204.1 L1378.9 204.1 L1383.2 209.0 L1388.8 218.9 L1394.4 231.6 L1398.7 248.6 L1401.5 265.5 L1402.9 285.3 L1405.7 299.4 L1407.1 312.1 L1412.8 299.4 L1414.2 271.1 L1417.0 242.9 L1419.9 221.7 L1422.7 206.2 L1425.5 192.1 L1431.1 183.6 L1438.2 175.2 L1445.3 168.1 L1450.9 163.9 L1463.6 162.5 L1490.0 162.5 L1503.6 160.6 L1545.9 158.8 L1595.3 158.8 L1645.0 157.5 L1645.0 154.7 L1697.4 154.7 L1705.9 159.6 L1716.7 165.4 L1722.3 171.0 L1726.6 182.3 L1730.8 202.1 L1733.6 230.3 L1737.8 252.9 L1739.3 281.1 L1742.1 309.3 L1743.5 351.6 L1746.3 394.0 L1747.7 436.3 L1749.1 487.1 L1750.5 504.0 L1753.4 487.1 L1754.8 461.7 L1759.0 422.2 L1760.4 388.3 L1763.2 351.6 L1764.6 323.4 L1767.5 298.0 L1770.3 275.4 L1773.1 258.5 L1777.3 247.2 L1784.4 233.1 L1792.9 221.8 L1801.3 213.4 L1815.4 207.7 L1832.7 206.4 L1840.3 198.7 L1848.0 186.0 L1855.6 177.2 L1865.7 173.3 L1875.9 172.1 L1934.3 173.3 L1939.4 169.5 L1972.4 168.3 L2010.5 167.0 L2048.6 164.5 L2066.4 158.1 L2086.7 154.3 L2099.4 154.3 L2109.6 159.4 L2117.8 173.3 L2125.4 193.7 L2130.5 211.4 L2133.0 224.1 L2140.6 234.3 L2150.8 238.1 L2161.0 231.8 L2171.1 224.1 L2183.8 216.5 L2196.5 207.6 L2211.8 201.3 L2221.9 196.2 L2234.6 192.4 L2242.2 188.6 L2257.5 188.6 L2265.1 196.2 L2277.8 208.9 L2290.5 217.8 L2298.1 222.9 L2387.0 222.9" fill="none" stroke="#06066a" stroke-width="3.50" stroke-linejoin="round" stroke-linecap="round"/>
<rect x="1841" y="748" width="545" height="433" fill="#fff"/>
<g stroke="#000" stroke-width="3.8" fill="none" stroke-linecap="butt">
<path d="M159.0 131.6 H2388.0 V1207.0 H159.0 Z"/>
<line x1="141.8" y1="131.6" x2="159.0" y2="131.6"/>
<line x1="141.8" y1="312.0" x2="159.0" y2="312.0"/>
<line x1="141.8" y1="488.8" x2="159.0" y2="488.8"/>
<line x1="141.8" y1="669.0" x2="159.0" y2="669.0"/>
<line x1="141.8" y1="849.8" x2="159.0" y2="849.8"/>
<line x1="141.8" y1="1026.2" x2="159.0" y2="1026.2"/>
<line x1="141.8" y1="1207.0" x2="159.0" y2="1207.0"/>
<line x1="159.0" y1="1207.0" x2="159.0" y2="1224"/>
<line x1="439.0" y1="1207.0" x2="439.0" y2="1224"/>
<line x1="715.1" y1="1207.0" x2="715.1" y2="1224"/>
<line x1="995.1" y1="1207.0" x2="995.1" y2="1224"/>
<line x1="1271.6" y1="1207.0" x2="1271.6" y2="1224"/>
<line x1="1551.7" y1="1207.0" x2="1551.7" y2="1224"/>
<line x1="1831.7" y1="1207.0" x2="1831.7" y2="1224"/>
<line x1="2107.9" y1="1207.0" x2="2107.9" y2="1224"/>
<line x1="2388.0" y1="1207.0" x2="2388.0" y2="1224"/>
</g>
<line x1="1841" y1="780.4" x2="1975" y2="780.4" stroke="#b43aa6" stroke-width="3.6"/>
<line x1="1841" y1="865.0" x2="1975" y2="865.0" stroke="#cf8f5a" stroke-width="3.6"/>
<line x1="1841" y1="953.3" x2="1975" y2="953.3" stroke="#a02226" stroke-width="3.6"/>
<line x1="1841" y1="1037.9" x2="1975" y2="1037.9" stroke="#9a7e64" stroke-width="3.6"/>
<line x1="1841" y1="1126.0" x2="1975" y2="1126.0" stroke="#06066a" stroke-width="3.6"/>
<text x="879.97" y="79.70" font-size="56.00" textLength="778.06" lengthAdjust="spacingAndGlyphs" style="fill:#000;stroke:#000;stroke-width:1.30;font-weight:200">S-Parameter [Magnitude in dB]</text>
<text x="1052.97" y="1385.00" font-size="55.00" textLength="428.04" lengthAdjust="spacingAndGlyphs" style="fill:#000;stroke:#000;stroke-width:1.30;font-weight:200">Frequency / GHz</text>
<text x="2000.98" y="800.40" font-size="53.00" textLength="336.06" lengthAdjust="spacingAndGlyphs" style="fill:#d23cc8;stroke:#d23cc8;stroke-width:1.30;font-weight:200">x=2.3,s=085</text>
<text x="2000.98" y="885.40" font-size="53.00" textLength="356.06" lengthAdjust="spacingAndGlyphs" style="fill:#e0904a;stroke:#e0904a;stroke-width:1.30;font-weight:200">x=2.4,s=0.85</text>
<text x="2000.98" y="973.50" font-size="53.00" textLength="376.06" lengthAdjust="spacingAndGlyphs" style="fill:#d02028;stroke:#d02028;stroke-width:1.30;font-weight:200">x=2.5, s=0.85</text>
<text x="2000.99" y="1058.50" font-size="53.00" textLength="386.05" lengthAdjust="spacingAndGlyphs" style="fill:#a8865e;stroke:#a8865e;stroke-width:1.30;font-weight:200">x=2.55,s=0.85</text>
<text x="2000.98" y="1146.50" font-size="53.00" textLength="358.07" lengthAdjust="spacingAndGlyphs" style="fill:#1a18a8;stroke:#1a18a8;stroke-width:1.30;font-weight:200">x=2.7,s=0.85</text>
<text x="142.66" y="1300.00" font-size="53.00" textLength="33.90" lengthAdjust="spacingAndGlyphs" style="fill:#000;stroke:#000;stroke-width:1.30;font-weight:200">2</text>
<text x="393.83" y="1299.00" font-size="53.00" textLength="85.48" lengthAdjust="spacingAndGlyphs" style="fill:#000;stroke:#000;stroke-width:1.30;font-weight:200">2.5</text>
<text x="695.48" y="1299.00" font-size="53.00" textLength="35.24" lengthAdjust="spacingAndGlyphs" style="fill:#000;stroke:#000;stroke-width:1.30;font-weight:200">3</text>
<text x="947.80" y="1299.00" font-size="53.00" textLength="86.52" lengthAdjust="spacingAndGlyphs" style="fill:#000;stroke:#000;stroke-width:1.30;font-weight:200">3.5</text>
<text x="1252.85" y="1300.00" font-size="53.00" textLength="36.43" lengthAdjust="spacingAndGlyphs" style="fill:#000;stroke:#000;stroke-width:1.30;font-weight:200">4</text>
<text x="1505.92" y="1299.00" font-size="53.00" textLength="86.26" lengthAdjust="spacingAndGlyphs" style="fill:#000;stroke:#000;stroke-width:1.30;font-weight:200">4.5</text>
<text x="1812.21" y="1299.00" font-size="53.00" textLength="36.77" lengthAdjust="spacingAndGlyphs" style="fill:#000;stroke:#000;stroke-width:1.30;font-weight:200">5</text>
<text x="2062.68" y="1299.00" font-size="53.00" textLength="85.68" lengthAdjust="spacingAndGlyphs" style="fill:#000;stroke:#000;stroke-width:1.30;font-weight:200">5.5</text>
<text x="2366.16" y="1299.00" font-size="53.00" textLength="40.50" lengthAdjust="spacingAndGlyphs" style="fill:#000;stroke:#000;stroke-width:1.30;font-weight:200">6</text>
<text x="84.43" y="150.00" font-size="53.00" textLength="33.16" lengthAdjust="spacingAndGlyphs" style="fill:#000;stroke:#000;stroke-width:1.30;font-weight:200">0</text>
<text x="81.77" y="331.00" font-size="53.00" textLength="38.52" lengthAdjust="spacingAndGlyphs" style="fill:#000;stroke:#000;stroke-width:1.30;font-weight:200">5</text>
<text x="52.60" y="507.00" font-size="53.00" textLength="65.77" lengthAdjust="spacingAndGlyphs" style="fill:#000;stroke:#000;stroke-width:1.30;font-weight:200">10</text>
<text x="52.56" y="688.00" font-size="53.00" textLength="66.89" lengthAdjust="spacingAndGlyphs" style="fill:#000;stroke:#000;stroke-width:1.30;font-weight:200">15</text>
<text x="54.87" y="868.00" font-size="53.00" textLength="63.28" lengthAdjust="spacingAndGlyphs" style="fill:#000;stroke:#000;stroke-width:1.30;font-weight:200">20</text>
<text x="54.82" y="1045.00" font-size="53.00" textLength="64.45" lengthAdjust="spacingAndGlyphs" style="fill:#000;stroke:#000;stroke-width:1.30;font-weight:200">25</text>
<text x="53.82" y="1225.00" font-size="53.00" textLength="64.41" lengthAdjust="spacingAndGlyphs" style="fill:#000;stroke:#000;stroke-width:1.30;font-weight:200">30</text>
<text x="45.51" y="337.80" font-size="57.00" textLength="39.05" lengthAdjust="spacingAndGlyphs" style="fill:#000;stroke:#000;stroke-width:1.30;font-weight:200">−</text>
<text x="21.39" y="513.80" font-size="57.00" textLength="40.22" lengthAdjust="spacingAndGlyphs" style="fill:#000;stroke:#000;stroke-width:1.30;font-weight:200">−</text>
<text x="25.36" y="695.25" font-size="57.00" textLength="40.28" lengthAdjust="spacingAndGlyphs" style="fill:#000;stroke:#000;stroke-width:1.30;font-weight:200">−</text>
<text x="21.39" y="871.35" font-size="57.00" textLength="40.22" lengthAdjust="spacingAndGlyphs" style="fill:#000;stroke:#000;stroke-width:1.30;font-weight:200">−</text>
<text x="21.39" y="1047.90" font-size="57.00" textLength="40.22" lengthAdjust="spacingAndGlyphs" style="fill:#000;stroke:#000;stroke-width:1.30;font-weight:200">−</text>
<text x="21.36" y="1228.35" font-size="57.00" textLength="40.28" lengthAdjust="spacingAndGlyphs" style="fill:#000;stroke:#000;stroke-width:1.30;font-weight:200">−</text>
</svg></body></html>
